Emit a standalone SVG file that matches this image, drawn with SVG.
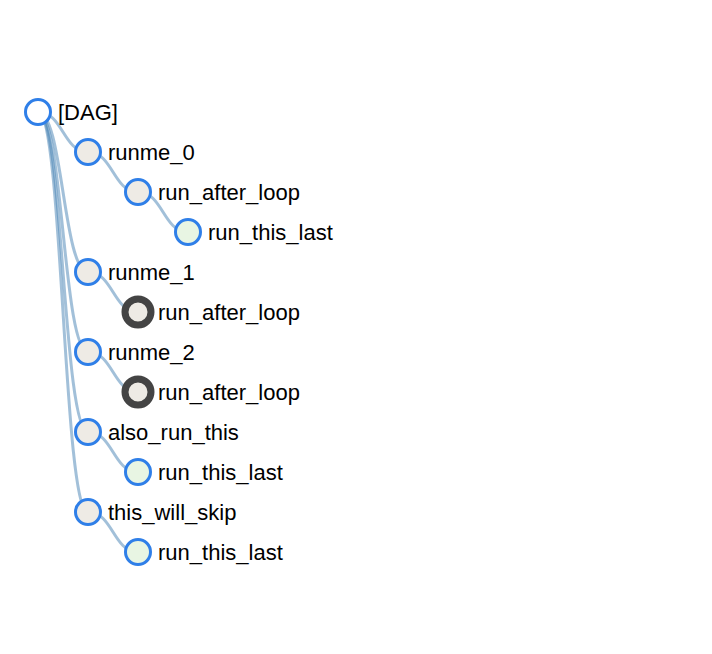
<svg xmlns="http://www.w3.org/2000/svg" width="712" height="654" viewBox="0 0 712 654">
<style>
.link{fill:none;stroke:steelblue;stroke-opacity:0.5;stroke-width:3}
.node circle{stroke:#2f7fe8;stroke-width:3}
.node text{font-family:"Liberation Sans",Arial,Helvetica,sans-serif;font-size:22px;fill:#000}
.root circle{fill:#ffffff}
.task circle{fill:#eeebe5}
.last circle{fill:#e8f5e3}
.dark circle{fill:#eeebe5;stroke:#444;stroke-width:7}
</style>
<rect width="712" height="654" fill="#ffffff"/>
<g id="links">
<path class="link" d="M38,112 C63,112 63,152 88,152"/>
<path class="link" d="M38,112 C63,112 63,272 88,272"/>
<path class="link" d="M38,112 C63,112 63,352 88,352"/>
<path class="link" d="M38,112 C63,112 63,432 88,432"/>
<path class="link" d="M38,112 C63,112 63,512 88,512"/>
<path class="link" d="M88,152 C113,152 113,192 138,192"/>
<path class="link" d="M138,192 C163,192 163,232 188,232"/>
<path class="link" d="M88,272 C113,272 113,312 138,312"/>
<path class="link" d="M88,352 C113,352 113,392 138,392"/>
<path class="link" d="M88,432 C113,432 113,472 138,472"/>
<path class="link" d="M88,512 C113,512 113,552 138,552"/>
</g>
<g id="n0" class="node root"><circle cx="38" cy="112" r="12.5"/><text x="58" y="120">[DAG]</text></g>
<g id="n1" class="node task"><circle cx="88" cy="152" r="12.5"/><text x="108" y="160">runme_0</text></g>
<g id="n2" class="node task"><circle cx="138" cy="192" r="12.5"/><text x="158" y="200">run_after_loop</text></g>
<g id="n3" class="node last"><circle cx="188" cy="232" r="12.5"/><text x="208" y="240">run_this_last</text></g>
<g id="n4" class="node task"><circle cx="88" cy="272" r="12.5"/><text x="108" y="280">runme_1</text></g>
<g id="n5" class="node dark"><circle cx="138" cy="312" r="13"/><text x="158" y="320">run_after_loop</text></g>
<g id="n6" class="node task"><circle cx="88" cy="352" r="12.5"/><text x="108" y="360">runme_2</text></g>
<g id="n7" class="node dark"><circle cx="138" cy="392" r="13"/><text x="158" y="400">run_after_loop</text></g>
<g id="n8" class="node task"><circle cx="88" cy="432" r="12.5"/><text x="108" y="440">also_run_this</text></g>
<g id="n9" class="node last"><circle cx="138" cy="472" r="12.5"/><text x="158" y="480">run_this_last</text></g>
<g id="n10" class="node task"><circle cx="88" cy="512" r="12.5"/><text x="108" y="520">this_will_skip</text></g>
<g id="n11" class="node last"><circle cx="138" cy="552" r="12.5"/><text x="158" y="560">run_this_last</text></g>
</svg>
